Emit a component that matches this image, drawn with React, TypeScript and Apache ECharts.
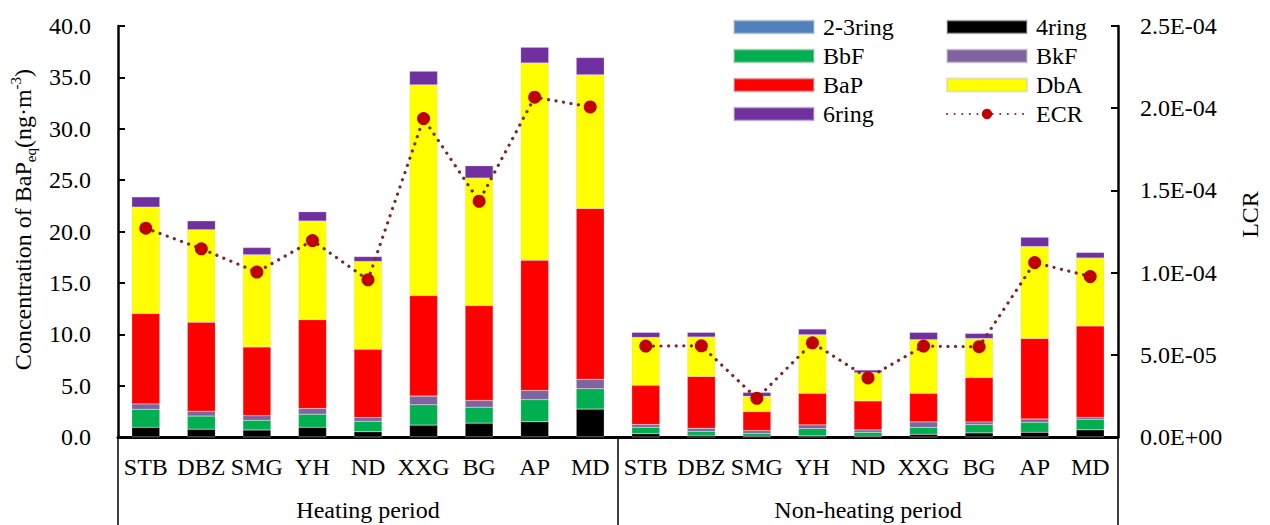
import React, { useEffect, useRef } from "react";
import * as echarts from "echarts";

const sites = ["STB", "DBZ", "SMG", "YH", "ND", "XXG", "BG", "AP", "MD"];
const periods = ["Heating period", "Non-heating period"];

// heating (9) followed by non-heating (9)
const ring23 = [0.02, 0.02, 0.01, 0.02, 0.01, 0.03, 0.03, 0.03, 0.04, 0.01, 0.01, 0.01, 0.01, 0.01, 0.01, 0.01, 0.01, 0.02];
const ring4 = [0.93, 0.74, 0.68, 0.93, 0.5, 1.13, 1.32, 1.46, 2.68, 0.32, 0.16, 0.06, 0.1, 0.06, 0.25, 0.39, 0.45, 0.68];
const bbf = [1.75, 1.28, 0.93, 1.27, 1.02, 1.98, 1.55, 2.14, 1.98, 0.61, 0.38, 0.29, 0.71, 0.39, 0.68, 0.81, 0.97, 1.03];
const bkf = [0.52, 0.47, 0.46, 0.55, 0.36, 0.84, 0.66, 0.9, 0.91, 0.27, 0.3, 0.26, 0.36, 0.23, 0.53, 0.26, 0.33, 0.17];
const bap = [8.8, 8.65, 6.68, 8.65, 6.64, 9.78, 9.23, 12.66, 16.62, 3.82, 5.05, 1.85, 3.07, 2.82, 2.78, 4.33, 7.83, 8.91];
const dba = [10.35, 9.01, 8.97, 9.6, 8.55, 20.51, 12.41, 19.21, 13.02, 4.66, 3.83, 1.49, 5.7, 2.75, 5.22, 3.79, 8.94, 6.61];
const ring6 = [1.0, 0.87, 0.71, 0.9, 0.48, 1.33, 1.2, 1.53, 1.68, 0.49, 0.45, 0.38, 0.56, 0.26, 0.71, 0.49, 0.92, 0.54];

const ecrHeating = [1.27e-4, 1.145e-4, 1.003e-4, 1.195e-4, 0.956e-4, 1.937e-4, 1.434e-4, 2.067e-4, 2.008e-4];
const ecrNonHeating = [0.553e-4, 0.555e-4, 0.235e-4, 0.573e-4, 0.359e-4, 0.553e-4, 0.549e-4, 1.061e-4, 0.976e-4];

const FONT = "Liberation Serif";
const FS = 24;

const barSeries = [
  { name: "2-3ring", data: ring23, color: "#4F81BD" },
  { name: "4ring", data: ring4, color: "#000000" },
  { name: "BbF", data: bbf, color: "#00B050" },
  { name: "BkF", data: bkf, color: "#8064A2" },
  { name: "BaP", data: bap, color: "#FF0000" },
  { name: "DbA", data: dba, color: "#FFFF00" },
  { name: "6ring", data: ring6, color: "#7030A0" },
];

function fmtExp(v: number): string {
  if (Math.abs(v) < 1e-12) return "0.0E+00";
  const s = v.toExponential(1);
  const [m, e] = s.split("e");
  const n = parseInt(e, 10);
  return m + "E" + (n < 0 ? "-" : "+") + String(Math.abs(n)).padStart(2, "0");
}

export default function App() {
  const ref = useRef<HTMLDivElement>(null);
  useEffect(() => {
    document.body.style.margin = "0";
    if (!ref.current) return;
    const chart = echarts.init(ref.current, null, { renderer: "svg" });
    const catKeys = [...sites.map((s) => "H|" + s), ...sites.map((s) => "N|" + s)];
    const dash = sites.map(() => "-");
    const textBase = { fontFamily: FONT, fontSize: FS, color: "#000" };
    const ecrLine = {
      type: "line",
      name: "ECR",
      yAxisIndex: 1,
      symbol: "circle",
      symbolSize: 13,
      z: 10,
      connectNulls: false,
      itemStyle: { color: "#C00000" },
      lineStyle: { color: "#7A2C2C", width: 3.2, type: [0.1, 7.5], cap: "round" },
    };
    const legendCommon = {
      orient: "vertical",
      top: 10,
      itemWidth: 80,
      itemHeight: 13,
      itemGap: 5,
      textStyle: { ...textBase, padding: [0, 0, 0, 4] },
    };
    const option: any = {
      animation: false,
      grid: { left: 118, right: 140, top: 26, bottom: 88, containLabel: false },
      legend: [
        {
          ...legendCommon,
          left: 728,
          data: ["2-3ring", "BbF", "BaP", "6ring"].map((n) => ({ name: n, icon: "rect" })),
        },
        {
          ...legendCommon,
          left: 941,
          data: [
            { name: "4ring", icon: "rect" },
            { name: "BkF", icon: "rect" },
            { name: "DbA", icon: "rect" },
            { name: "ECR" },
          ],
        },
      ],
      xAxis: [
        {
          type: "category",
          data: catKeys,
          position: "bottom",
          axisLine: { show: true, lineStyle: { color: "#000", width: 3 } },
          axisTick: { show: false },
          axisLabel: {
            ...textBase,
            interval: 0,
            margin: 18,
            formatter: (v: string) => v.split("|")[1],
          },
          splitLine: { show: false },
        },
        {
          type: "category",
          data: periods,
          position: "bottom",
          offset: 0,
          axisLine: { show: false },
          axisTick: { show: true, length: 90, lineStyle: { color: "#000", width: 1.5 } },
          axisLabel: { ...textBase, interval: 0, margin: 61 },
          splitLine: { show: false },
        },
      ],
      yAxis: [
        {
          type: "value",
          min: 0,
          max: 40,
          interval: 5,
          position: "left",
          axisLine: { show: true, lineStyle: { color: "#000", width: 2.5 } },
          axisTick: { show: true, inside: true, length: 7, lineStyle: { color: "#000", width: 2 } },
          axisLabel: { ...textBase, margin: 27, formatter: (v: number) => v.toFixed(1) },
          splitLine: { show: false },
          name: "{a|Concentration of BaP}{sub|eq}{a|(ng·m}{sup|-3}{a|)}",
          nameLocation: "middle",
          nameRotate: 90,
          nameGap: 78,
          nameTextStyle: {
            ...textBase,
            padding: [0, 0, 0, 24],
            rich: {
              a: { fontFamily: FONT, fontSize: FS, color: "#000", lineHeight: 30 },
              sub: { fontFamily: FONT, fontSize: 15, color: "#000", lineHeight: 12, verticalAlign: "bottom" },
              sup: { fontFamily: FONT, fontSize: 15, color: "#000", lineHeight: 12, verticalAlign: "top" },
            },
          },
        },
        {
          type: "value",
          min: 0,
          max: 2.5e-4,
          interval: 5e-5,
          position: "right",
          axisLine: { show: true, lineStyle: { color: "#000", width: 2.5 } },
          axisTick: { show: true, inside: true, length: 7, lineStyle: { color: "#000", width: 2 } },
          axisLabel: { ...textBase, margin: 22, formatter: (v: number) => fmtExp(v) },
          splitLine: { show: false },
          name: "LCR",
          nameLocation: "middle",
          nameRotate: 90,
          nameGap: 120,
          nameTextStyle: { ...textBase, padding: [0, 0, 0, 34] },
        },
      ],
      series: [
        ...barSeries.map((b) => ({
          type: "bar",
          name: b.name,
          stack: "total",
          data: b.data,
          barWidth: 28,
          xAxisIndex: 0,
          yAxisIndex: 0,
          itemStyle: { color: b.color, borderColor: "rgba(200,200,200,0.5)", borderWidth: 0.5 },
        })),
        { ...ecrLine, data: [...ecrHeating, ...dash] },
        { ...ecrLine, data: [...dash, ...ecrNonHeating] },
      ],
    };
    chart.setOption(option);
    return () => chart.dispose();
  }, []);
  return <div ref={ref} style={{ width: 1270, height: 525 }} />;
}
